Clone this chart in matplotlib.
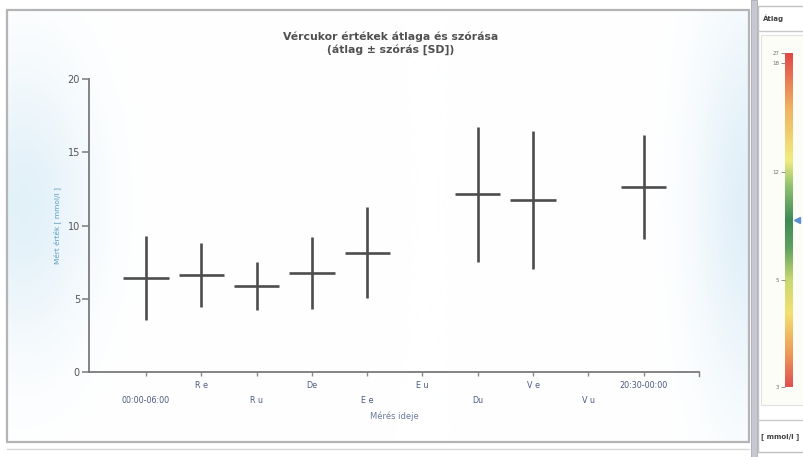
import numpy as np
import matplotlib
matplotlib.use("Agg")
import matplotlib.pyplot as plt
from matplotlib.patches import Rectangle
from matplotlib.lines import Line2D
from matplotlib.colors import LinearSegmentedColormap

plt.rcParams['font.family'] = ['DejaVu Sans']

# ---- data ----
categories = ["00:00-06:00", "R e", "R u", "De", "E e", "E u", "Du", "V e", "V u", "20:30-00:00"]
means = [6.44, 6.64, 5.84, 6.76, 8.13, np.nan, 12.14, 11.73, np.nan, 12.62]
sds = [2.87, 2.18, 1.64, 2.45, 3.10, np.nan, 4.60, 4.70, np.nan, 3.56]
y_ticks = [0, 5, 10, 15, 20]
scale_labels = ["27", "18", "12", "5", "3"]
scale_pos = [1.0, 0.970, 0.644, 0.320, 0.0]
scale_marker = 0.50

W, H = 804, 457
fig = plt.figure(figsize=(W / 100, H / 100), dpi=100)
fig.patch.set_facecolor("white")

def fx(x):
    return x / W

def fy(y):
    return 1 - y / H

# ---- background gradient in main frame ----
bg = fig.add_axes([fx(8), fy(441), fx(741), (441 - 11) / H], zorder=0)
nx, ny = 300, 200
xs = np.linspace(0, 1, nx)
ys = np.linspace(0, 1, ny)
X, Y = np.meshgrid(xs, ys)
left = np.exp(-((X - 0.02) / 0.09) ** 2) * np.exp(-((Y - 0.45) / 0.32) ** 2)
right = np.exp(-((X - 1.0) / 0.07) ** 2) * np.exp(-((Y - 0.45) / 0.45) ** 2)
a = np.clip(0.8 * left + 0.85 * right, 0, 1)
base = np.array([0.86, 0.93, 0.97])
img = np.ones((ny, nx, 3)) * (1 - a[..., None]) + base * a[..., None]
bg.imshow(img, aspect="auto", extent=[0, 1, 0, 1], origin="upper")
bg.set_axis_off()

# frame
fig.patches.append(Rectangle((fx(7), fy(442)), fx(742), (442 - 10) / H, transform=fig.transFigure,
                             fill=False, edgecolor="#b4b4b4", lw=1.6, zorder=1))
fig.lines.append(Line2D([fx(7), fx(749)], [fy(449), fy(449)], transform=fig.transFigure,
                        color="#d8d8d8", lw=1.0))

# ---- main axes ----
ax = fig.add_axes([fx(89), fy(372), fx(699 - 89), (372 - 79) / H], zorder=2)
ax.patch.set_alpha(0)
x = np.arange(len(categories))
m = np.array(means)
s = np.array(sds)
ok = ~np.isnan(m)
line_col = "#4d4d4d"
ax.vlines(x[ok], (m - s)[ok], (m + s)[ok], color=line_col, lw=1.9)
half = 0.41
ax.hlines(m[ok], x[ok] - half, x[ok] + half, color=line_col, lw=1.9)

ax.set_xlim(-1.03, 10)
ax.set_ylim(0, 20)
ax.set_yticks(y_ticks)
ax.set_yticklabels([str(v) for v in y_ticks])
for sp in ["top", "right"]:
    ax.spines[sp].set_visible(False)
for sp in ["left", "bottom"]:
    ax.spines[sp].set_color("#7a7a7a")
    ax.spines[sp].set_linewidth(1.3)
ax.tick_params(axis="y", direction="out", length=5, width=1.1, color="#7a7a7a",
               labelsize=7, labelcolor="#555555", pad=1.5)

odd = x[1::2]
even = x[0::2]
ax.set_xticks(odd)
ax.set_xticklabels([categories[i] for i in odd])
ax.set_xticks(even, minor=True)
ax.set_xticklabels([categories[i] for i in even], minor=True)
ax.tick_params(axis="x", which="major", direction="out", length=3, width=1.0, color="#8a8a8a",
               labelsize=5.8, labelcolor="#4a5a80", pad=3.5)
ax.tick_params(axis="x", which="minor", direction="out", length=3, width=1.0, color="#8a8a8a",
               labelsize=5.8, labelcolor="#4a5a80", pad=14)
# small end tick at right of x axis
ax.plot([1, 1], [0, -0.012], transform=ax.transAxes, color="#7a7a7a", lw=1.0, clip_on=False)

ax.set_xlabel("Mérés ideje", fontsize=6, color="#6a7a9a", labelpad=5)
ax.set_ylabel("Mért érték [ mmol/l ]", fontsize=5.3, color="#5a9cc0", labelpad=5)

fig.text(fx(391), fy(37), "Vércukor értékek átlaga és szórása", ha="center", va="center",
         fontsize=7.8, fontweight="bold", color="#505050")
fig.text(fx(391), fy(50), "(átlag ± szórás [SD])", ha="center", va="center",
         fontsize=7.8, fontweight="bold", color="#505050")

# ---- separator and right panel ----
fig.patches.append(Rectangle((fx(751), 0), fx(6), 1, transform=fig.transFigure,
                             facecolor="#c4c8d0", edgecolor="#a8acb4", lw=0.6, zorder=1))
fig.patches.append(Rectangle((fx(758), fy(452)), fx(46), (452 - 6) / H, transform=fig.transFigure,
                             facecolor="white", edgecolor="#c0c0c0", lw=1.0, zorder=1))
fig.lines.append(Line2D([fx(758), fx(804)], [fy(31), fy(31)], transform=fig.transFigure,
                        color="#c8c8c8", lw=1.0))
fig.patches.append(Rectangle((fx(761), fy(405)), fx(43), (405 - 35) / H, transform=fig.transFigure,
                             facecolor="#fdfdf8", edgecolor="#e2e2e2", lw=0.8, zorder=1))
fig.lines.append(Line2D([fx(758), fx(804)], [fy(420), fy(420)], transform=fig.transFigure,
                        color="#c8c8c8", lw=1.0))
fig.text(fx(763), fy(18), "Átlag", ha="left", va="center", fontsize=5, fontweight="bold",
         color="#404040")
fig.text(fx(761), fy(437), "[ mmol/l ]", ha="left", va="center", fontsize=5, fontweight="bold",
         color="#404040")

cax = fig.add_axes([fx(785), fy(387), fx(8), (387 - 53) / H], zorder=3)
cmap = LinearSegmentedColormap.from_list("scale", [
    (0.0, "#e05050"), (0.10, "#ee9a58"), (0.22, "#f4e070"), (0.32, "#c8d870"),
    (0.42, "#5aa060"), (0.50, "#3e8a55"), (0.60, "#8ec070"), (0.68, "#f0ec80"),
    (0.84, "#f0b060"), (1.0, "#e04848")])
grad = np.linspace(0, 1, 256).reshape(-1, 1)
cax.imshow(grad, aspect="auto", cmap=cmap, extent=[0, 1, 0, 1], origin="lower")
cax.set_xlim(0, 1)
cax.set_ylim(0, 1)
cax.set_xticks([])
cax.set_yticks(scale_pos)
cax.set_yticklabels(scale_labels)
cax.tick_params(axis="y", length=3, width=0.7, color="#909090", labelsize=4,
                labelcolor="#707070", pad=1)
for sp in cax.spines.values():
    sp.set_visible(False)
cax.plot([1.45], [scale_marker], marker="<", markersize=5, color="#5b8fd0", clip_on=False)

fig.savefig("out.png", dpi=100)
